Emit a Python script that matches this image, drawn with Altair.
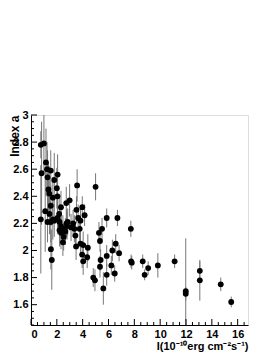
import altair as alt
import pandas as pd

# Flux I (1e-10 erg cm^-2 s^-1), spectral index a, and its error
flux = [0.76, 1.00, 0.82, 1.16, 1.24, 1.53, 1.28, 2.06, 1.80, 1.35,
        1.42, 1.69, 2.05, 2.00, 3.57, 1.53, 1.10, 2.32, 2.73, 2.99,
        2.18, 3.52, 3.97, 4.15, 0.76, 1.43, 1.28, 1.53, 1.69, 1.80,
        2.05, 2.21, 2.32, 2.21, 2.47, 2.32, 2.66, 2.79, 2.84, 3.10,
        3.26, 3.36, 2.53, 2.47, 3.44, 3.77, 1.54, 1.61, 3.49, 3.83,
        4.04, 4.40, 3.96, 4.04, 4.35, 3.65, 3.83, 5.00, 5.86, 6.69,
        7.73, 5.26, 5.50, 5.34, 6.56, 6.30, 6.82, 5.86, 5.39, 7.75,
        7.80, 8.65, 9.07, 8.80, 5.34, 6.22, 6.48, 5.86, 4.82, 4.95,
        5.60, 9.82, 11.12, 11.98, 11.98, 13.07, 13.07, 14.69, 15.50, 2.75]
index = [2.78, 2.79, 2.57, 2.65, 2.60, 2.59, 2.54, 2.56, 2.52, 2.45,
         2.42, 2.39, 2.40, 2.46, 2.48, 2.33, 2.29, 2.32, 2.35, 2.37,
         2.27, 2.30, 2.32, 2.26, 2.23, 2.27, 2.21, 2.21, 2.23, 2.22,
         2.24, 2.21, 2.18, 2.15, 2.16, 2.13, 2.14, 2.18, 2.21, 2.17,
         2.20, 2.16, 2.10, 2.06, 2.11, 2.16, 2.01, 1.93, 2.03, 2.05,
         2.04, 2.02, 1.97, 1.92, 1.95, 2.24, 2.22, 2.47, 2.24, 2.24,
         2.16, 2.13, 2.16, 2.07, 2.05, 2.00, 1.98, 1.96, 1.93, 1.92,
         1.91, 1.92, 1.87, 1.82, 1.88, 1.89, 1.83, 1.82, 1.80, 1.78,
         1.72, 1.89, 1.92, 1.70, 1.68, 1.85, 1.78, 1.75, 1.62, 2.20]
error = [0.10, 0.22, 0.38, 0.25, 0.20, 0.15, 0.20, 0.15, 0.20, 0.20,
         0.20, 0.15, 0.15, 0.15, 0.12, 0.15, 0.30, 0.12, 0.12, 0.12,
         0.12, 0.10, 0.08, 0.08, 0.40, 0.15, 0.15, 0.15, 0.15, 0.12,
         0.12, 0.12, 0.12, 0.12, 0.10, 0.12, 0.10, 0.10, 0.10, 0.10,
         0.10, 0.10, 0.10, 0.10, 0.10, 0.10, 0.15, 0.22, 0.10, 0.10,
         0.10, 0.10, 0.10, 0.10, 0.08, 0.10, 0.10, 0.10, 0.07, 0.06,
         0.06, 0.08, 0.08, 0.08, 0.07, 0.08, 0.06, 0.08, 0.08, 0.05,
         0.05, 0.05, 0.05, 0.04, 0.08, 0.07, 0.06, 0.08, 0.07, 0.08,
         0.12, 0.09, 0.05, 0.39, 0.05, 0.07, 0.15, 0.05, 0.04, 0.10]

x_major = [0, 2, 4, 6, 8, 10, 12, 14, 16]
x_minor = [v / 2 for v in range(0, 34) if v % 4 != 0]
y_major = [1.6, 1.8, 2.0, 2.2, 2.4, 2.6, 2.8, 3.0]
y_minor = [round(1.45 + 0.05 * i, 2) for i in range(0, 31)]
y_minor = [v for v in y_minor if v not in y_major]

df = pd.DataFrame({"I": flux, "a": index, "err": error})
df["lo"] = df["a"] - df["err"]
df["hi"] = df["a"] + df["err"]

W, H = 217, 210
FONT = "Liberation Sans"
xs = alt.Scale(domain=[0, 16.8], nice=False, zero=False)
ys = alt.Scale(domain=[1.45, 3.0], nice=False, zero=False)

x_axis = alt.Axis(values=x_major, format="d", grid=False, tickSize=0,
                  labelFont=FONT, labelFontWeight="bold", labelFontSize=11,
                  labelColor="black", labelPadding=3, domainColor="black",
                  title="I(10⁻¹⁰erg cm⁻²s⁻¹)", titleFont=FONT,
                  titleFontWeight="bold", titleFontSize=11, titleColor="black",
                  titleAnchor="end", titleAlign="right", titleX=W, titleY=24,
                  titleBaseline="alphabetic")
y_axis = alt.Axis(values=y_major, format=".1~f", grid=False, tickSize=0,
                  labelFont=FONT, labelFontWeight="bold", labelFontSize=11,
                  labelColor="black", labelPadding=3, domainColor="black",
                  title="Index a", titleFont=FONT, titleFontWeight="bold",
                  titleFontSize=12, titleColor="black", titleAngle=270,
                  titleAlign="right", titleBaseline="middle", titleX=-17, titleY=0)

bars = alt.Chart(df).mark_rule(color="#777", strokeWidth=1, clip=True).encode(
    x=alt.X("I:Q", scale=xs, axis=x_axis),
    y=alt.Y("lo:Q", scale=ys, axis=y_axis),
    y2="hi:Q",
)
pts = alt.Chart(df).mark_circle(color="black", opacity=1, size=34, clip=True).encode(
    x=alt.X("I:Q", scale=xs, axis=x_axis),
    y=alt.Y("a:Q", scale=ys, axis=y_axis),
)

def xt(vals, length):
    return alt.Chart(pd.DataFrame({"v": vals})).mark_rule(color="black").encode(
        x=alt.X("v:Q", scale=xs, axis=x_axis), y=alt.value(H), y2=alt.value(H - length))

def yt(vals, length):
    return alt.Chart(pd.DataFrame({"v": vals})).mark_rule(color="black").encode(
        y=alt.Y("v:Q", scale=ys, axis=y_axis), x=alt.value(0), x2=alt.value(length))

chart = alt.layer(
    bars, pts, xt(x_major, 6), xt(x_minor, 3), yt(y_major, 6), yt(y_minor, 3)
).properties(
    width=W, height=H,
    padding={"left": 23, "top": 107, "right": 10, "bottom": 28},
    autosize=alt.AutoSizeParams(type="none"),
).configure_view(stroke="#888", strokeWidth=1).configure(background="white")

chart.save("out.html", embed_options={"renderer": "svg", "actions": False})
